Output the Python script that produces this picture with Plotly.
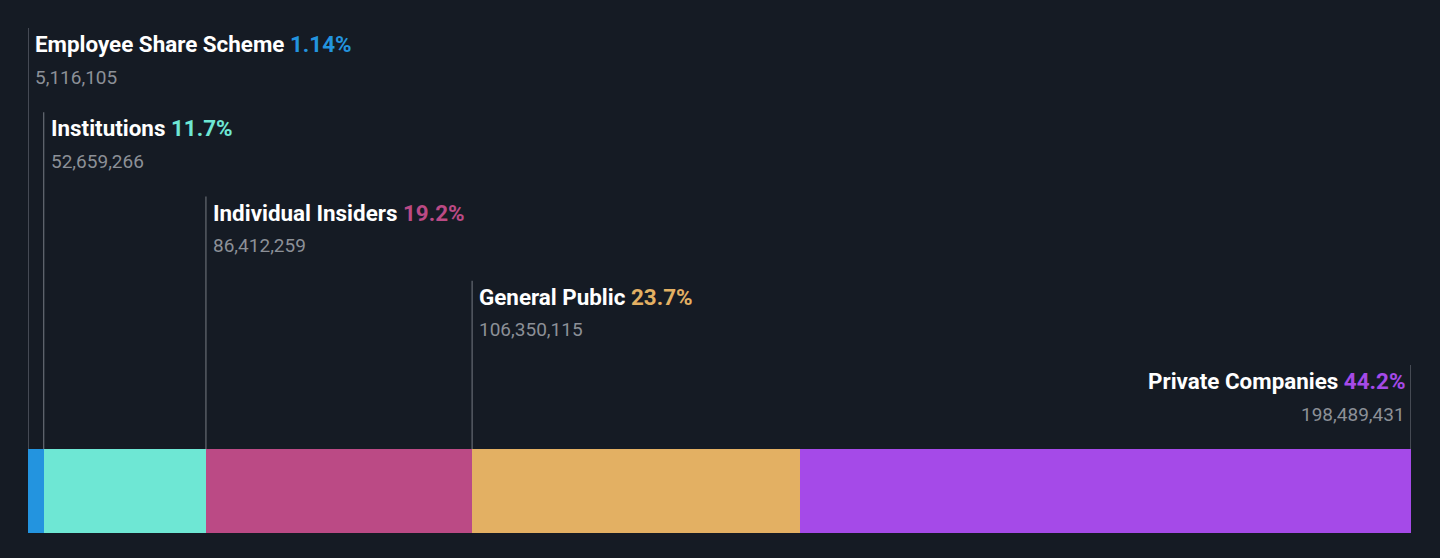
import plotly.graph_objects as go

# ownership breakdown
categories = ['Employee Share Scheme', 'Institutions', 'Individual Insiders',
              'General Public', 'Private Companies']
shares = [5116105, 52659266, 86412259, 106350115, 198489431]
pct_labels = ['1.14%', '11.7%', '19.2%', '23.7%', '44.2%']
colors = ['#2394df', '#6ee7d4', '#bb4a85', '#e3b063', '#a54ae8']

bg = '#151b24'
total = sum(shares)

fig = go.Figure()
for cat, val, col in zip(categories, shares, colors):
    fig.add_trace(go.Bar(
        y=[0], x=[val], orientation='h', name=cat,
        marker=dict(color=col, line=dict(width=0)),
        width=1, hoverinfo='skip'
    ))

# plot area spans pixels 0..533, bar sits at 449..533 (84px per y unit)
def ypix(p):
    return 0.5 + (449 - p) / 84.0

starts = []
acc = 0
for v in shares:
    starts.append(acc)
    acc += v

shapes = []
annotations = []
n = len(categories)
for i, (cat, val, pct, col) in enumerate(zip(categories, shares, pct_labels, colors)):
    last = i == n - 1
    xpos = total if last else starts[i]
    top = 28 + 84.25 * i
    shapes.append(dict(type='line', xref='x', yref='y',
                       x0=xpos, x1=xpos, y0=ypix(top), y1=0.5,
                       line=dict(color='#767b83', width=1)))
    anchor = 'right' if last else 'left'
    shift = -4 if last else 5
    annotations.append(dict(
        x=xpos, y=ypix(44 + 84.25 * i), xref='x', yref='y',
        text=f"<b>{cat} <span style='color:{col}'>{pct}</span></b>",
        showarrow=False, xanchor=anchor, yanchor='middle', xshift=shift,
        font=dict(family='Roboto', size=22.4, color='#ffffff')
    ))
    annotations.append(dict(
        x=xpos, y=ypix(77 + 84.25 * i), xref='x', yref='y',
        text=f"{val:,}",
        showarrow=False, xanchor=anchor, yanchor='middle', xshift=shift,
        font=dict(family='Roboto', size=19, color='#8c9097')
    ))

fig.update_layout(
    barmode='stack',
    width=1440, height=558,
    margin=dict(l=28, r=29, t=0, b=25),
    paper_bgcolor=bg, plot_bgcolor=bg,
    showlegend=False,
    bargap=0,
    xaxis=dict(range=[0, total], visible=False, fixedrange=True),
    yaxis=dict(range=[-0.5, ypix(0)], visible=False, fixedrange=True),
    shapes=shapes,
    annotations=annotations,
)

fig.write_html("out.html", config={'displayModeBar': False},
               post_script="document.body.style.margin='0';"
                           "document.body.style.background='#151b24';")
